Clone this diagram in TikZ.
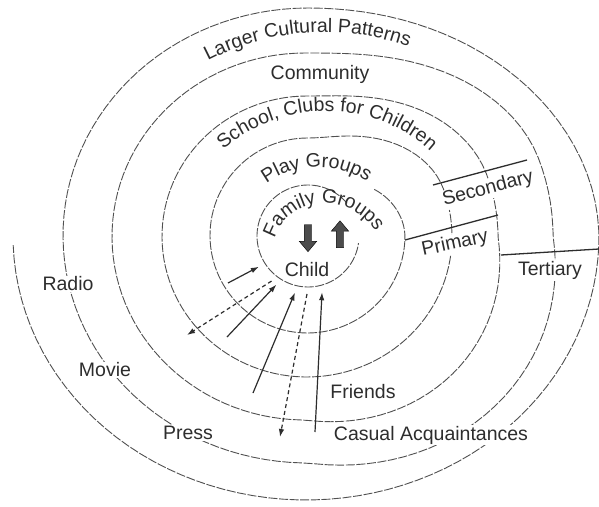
\documentclass[tikz,border=0pt]{standalone}
\usepackage{fontspec}
\setmainfont{Liberation Sans}
\usepackage{tikz}
\usetikzlibrary{arrows.meta, positioning, shapes.arrows, decorations.text, calc}
\definecolor{inkgray}{RGB}{45,45,45}
\definecolor{linegray}{RGB}{80,80,80}
\newcommand{\lblfont}{\fontsize{19.5}{22}\selectfont}

\begin{document}
\begin{tikzpicture}[
				x=1pt, y=-1pt,
				declare function={ss(\x)=3*\x*\x-2*\x*\x*\x; lerp(\x,\y,\z)=\x+(\y-\x)*ss(\z);
					bul(\x)=1+0.07*2*max(0,cos(\x))*max(0,-sin(\x));},
				ring/.style={draw=linegray, line width=0.9pt, dash pattern=on 9pt off 1.6pt},
				divider/.style={draw=inkgray, line width=1.3pt},
				tag/.style={font=\lblfont, text=inkgray, inner sep=1pt, fill=white},
				arrow/.style={-{Latex[length=8pt,width=5.5pt]}, line width=1.2pt, color=inkgray},
				darrow/.style={arrow, dash pattern=on 4pt off 3pt},
				curved/.style={decorate, decoration={text along path, text align=center, text color=inkgray}},
				block/.style={single arrow, draw=black, fill=gray!60!black, inner sep=3.5pt,
					minimum height=27pt, single arrow head extend=5pt, single arrow tip angle=80}
				]
				\fill[white] (0,0) rectangle (599,506);
				\useasboundingbox (0,0) rectangle (599,506);

				% family circle and the spiral of groups
				\draw[ring] plot[domain=40:352, samples=80] ({308+51*cos(\x)}, {236-51*sin(\x)});
				\draw[ring]
				plot[domain=0.6:1, samples=15] ({lerp(308,307.5,\x)+lerp(51,97.5,\x)*cos(90-92*\x)}, {lerp(236,235.5,\x)-lerp(51,97.5,\x)*sin(90-92*\x)})
				-- plot[domain=-2:-270, samples=90] ({307.5+97.5*cos(\x)}, {235.5-97.5*sin(\x)})
				-- plot[domain=0:1, samples=25] ({lerp(307.5,307,\x)+lerp(97.5,145,\x)*cos(90-70*\x)}, {lerp(235.5,236.5,\x)-lerp(97.5,140.5,\x)*sin(90-70*\x)})
				-- plot[domain=20:-270, samples=100] ({307+145*cos(\x)}, {236.5-140.5*sin(\x)})
				-- plot[domain=0:1, samples=25] ({lerp(307,305,\x)+lerp(145,193,\x)*cos(90-70*\x)}, {236.5-lerp(140.5,183.5,\x)*sin(90-70*\x)})
				-- plot[domain=20:-270, samples=100] ({305+193*bul(\x)*cos(\x)}, {236.5-183.5*bul(\x)*sin(\x)})
				-- plot[domain=0:1, samples=25] ({lerp(305,308,\x)+lerp(193,245,\x)*cos(90-70*\x)}, {lerp(236.5,235.5,\x)-lerp(183.5,227.5,\x)*sin(90-70*\x)})
				-- plot[domain=20:-270, samples=100] ({308+245*bul(\x)*cos(\x)}, {235.5-227.5*bul(\x)*sin(\x)})
				-- plot[domain=0:1, samples=30] ({lerp(308,306,\x)+lerp(245,293,\x)*cos(90-92*\x)}, {lerp(235.5,236,\x)-lerp(227.5,264,\x)*sin(90-92*\x)})
				-- plot[domain=-2:-178, samples=60] ({306+293*cos(\x)}, {236-264*sin(\x)});

				% zone dividers
				\coordinate (prim1) at (405,240);
				\coordinate (prim2) at (498,215);
				\coordinate (sec1) at (433,185);
				\coordinate (sec2) at (527,160);
				\coordinate (ter1) at (501,255);
				\coordinate (ter2) at (599,249);
				\draw[divider] (prim1) -- (prim2);
				\draw[divider] (sec1) -- (sec2);
				\draw[divider] (ter1) -- (ter2);

				% curved ring names
				\path[curved, decoration={text={|\lblfont|Larger Cultural Patterns}}]
				plot[domain=125:63, samples=40] ({324+247*cos(\x)}, {279-247*sin(\x)});
				\path[curved, decoration={text={|\lblfont|School, Clubs for Children}}]
				plot[domain=138:41, samples=40] ({326+157*cos(\x)}, {268-157*sin(\x)});
				\path[curved, decoration={text={|\lblfont|Play Groups}}]
				plot[domain=135:47, samples=40] ({318+88*cos(\x)}, {255-88*sin(\x)});
				\path[curved, decoration={text={|\lblfont|Family Groups}}]
				plot[domain=0:1, samples=40] ({315+(44+24*\x)*cos(160-140*\x)}, {260-(44+24*\x)*sin(160-140*\x)});

				\node[tag] (community) at (320,74) {Community};
				\node[tag] (radio) at (68,284) {Radio};
				\node[tag] (movie) at (105,370) {Movie};
				\node[tag] (press) at (188,433) {Press};
				\node[tag] (friends) at (363,392) {Friends};
				\node[tag] (casual) at (431,435) {Casual Acquaintances};
				\node[tag] (tertiary) at (550,270) {Tertiary};
				\node[tag, rotate=12] (primary) at (455,244) {Primary};
				\node[tag, rotate=15] (secondary) at (488,189) {Secondary};

				% the child and its influences
				\node[circle, minimum size=116pt, inner sep=0pt, outer sep=0pt] (family) at (308,236) {};
				\node[font=\lblfont, text=inkgray] (child) at (307,270) {Child};
				\node[block, rotate=-90] (down) at (308,236) {};
				\node[block, rotate=90] (up) at (340,236.5) {};

				\coordinate (radiofeed) at (228,283);
				\coordinate (radioback) at (187,335);
				\coordinate (moviefeed) at (227,337);
				\coordinate (pressfeed) at (253,393);
				\coordinate (pressback) at (280,437);
				\coordinate (casualfeed) at (315,432);
				\draw[arrow] (radiofeed) -- (family.212);
				\draw[darrow] (family.231) -- (radioback);
				\draw[arrow] (moviefeed) -- (family.237);
				\draw[arrow] (pressfeed) -- (family.257);
				\draw[darrow] (family.269) -- (pressback);
				\draw[arrow] (casualfeed) -- (family.284);
			\end{tikzpicture}
\end{document}
